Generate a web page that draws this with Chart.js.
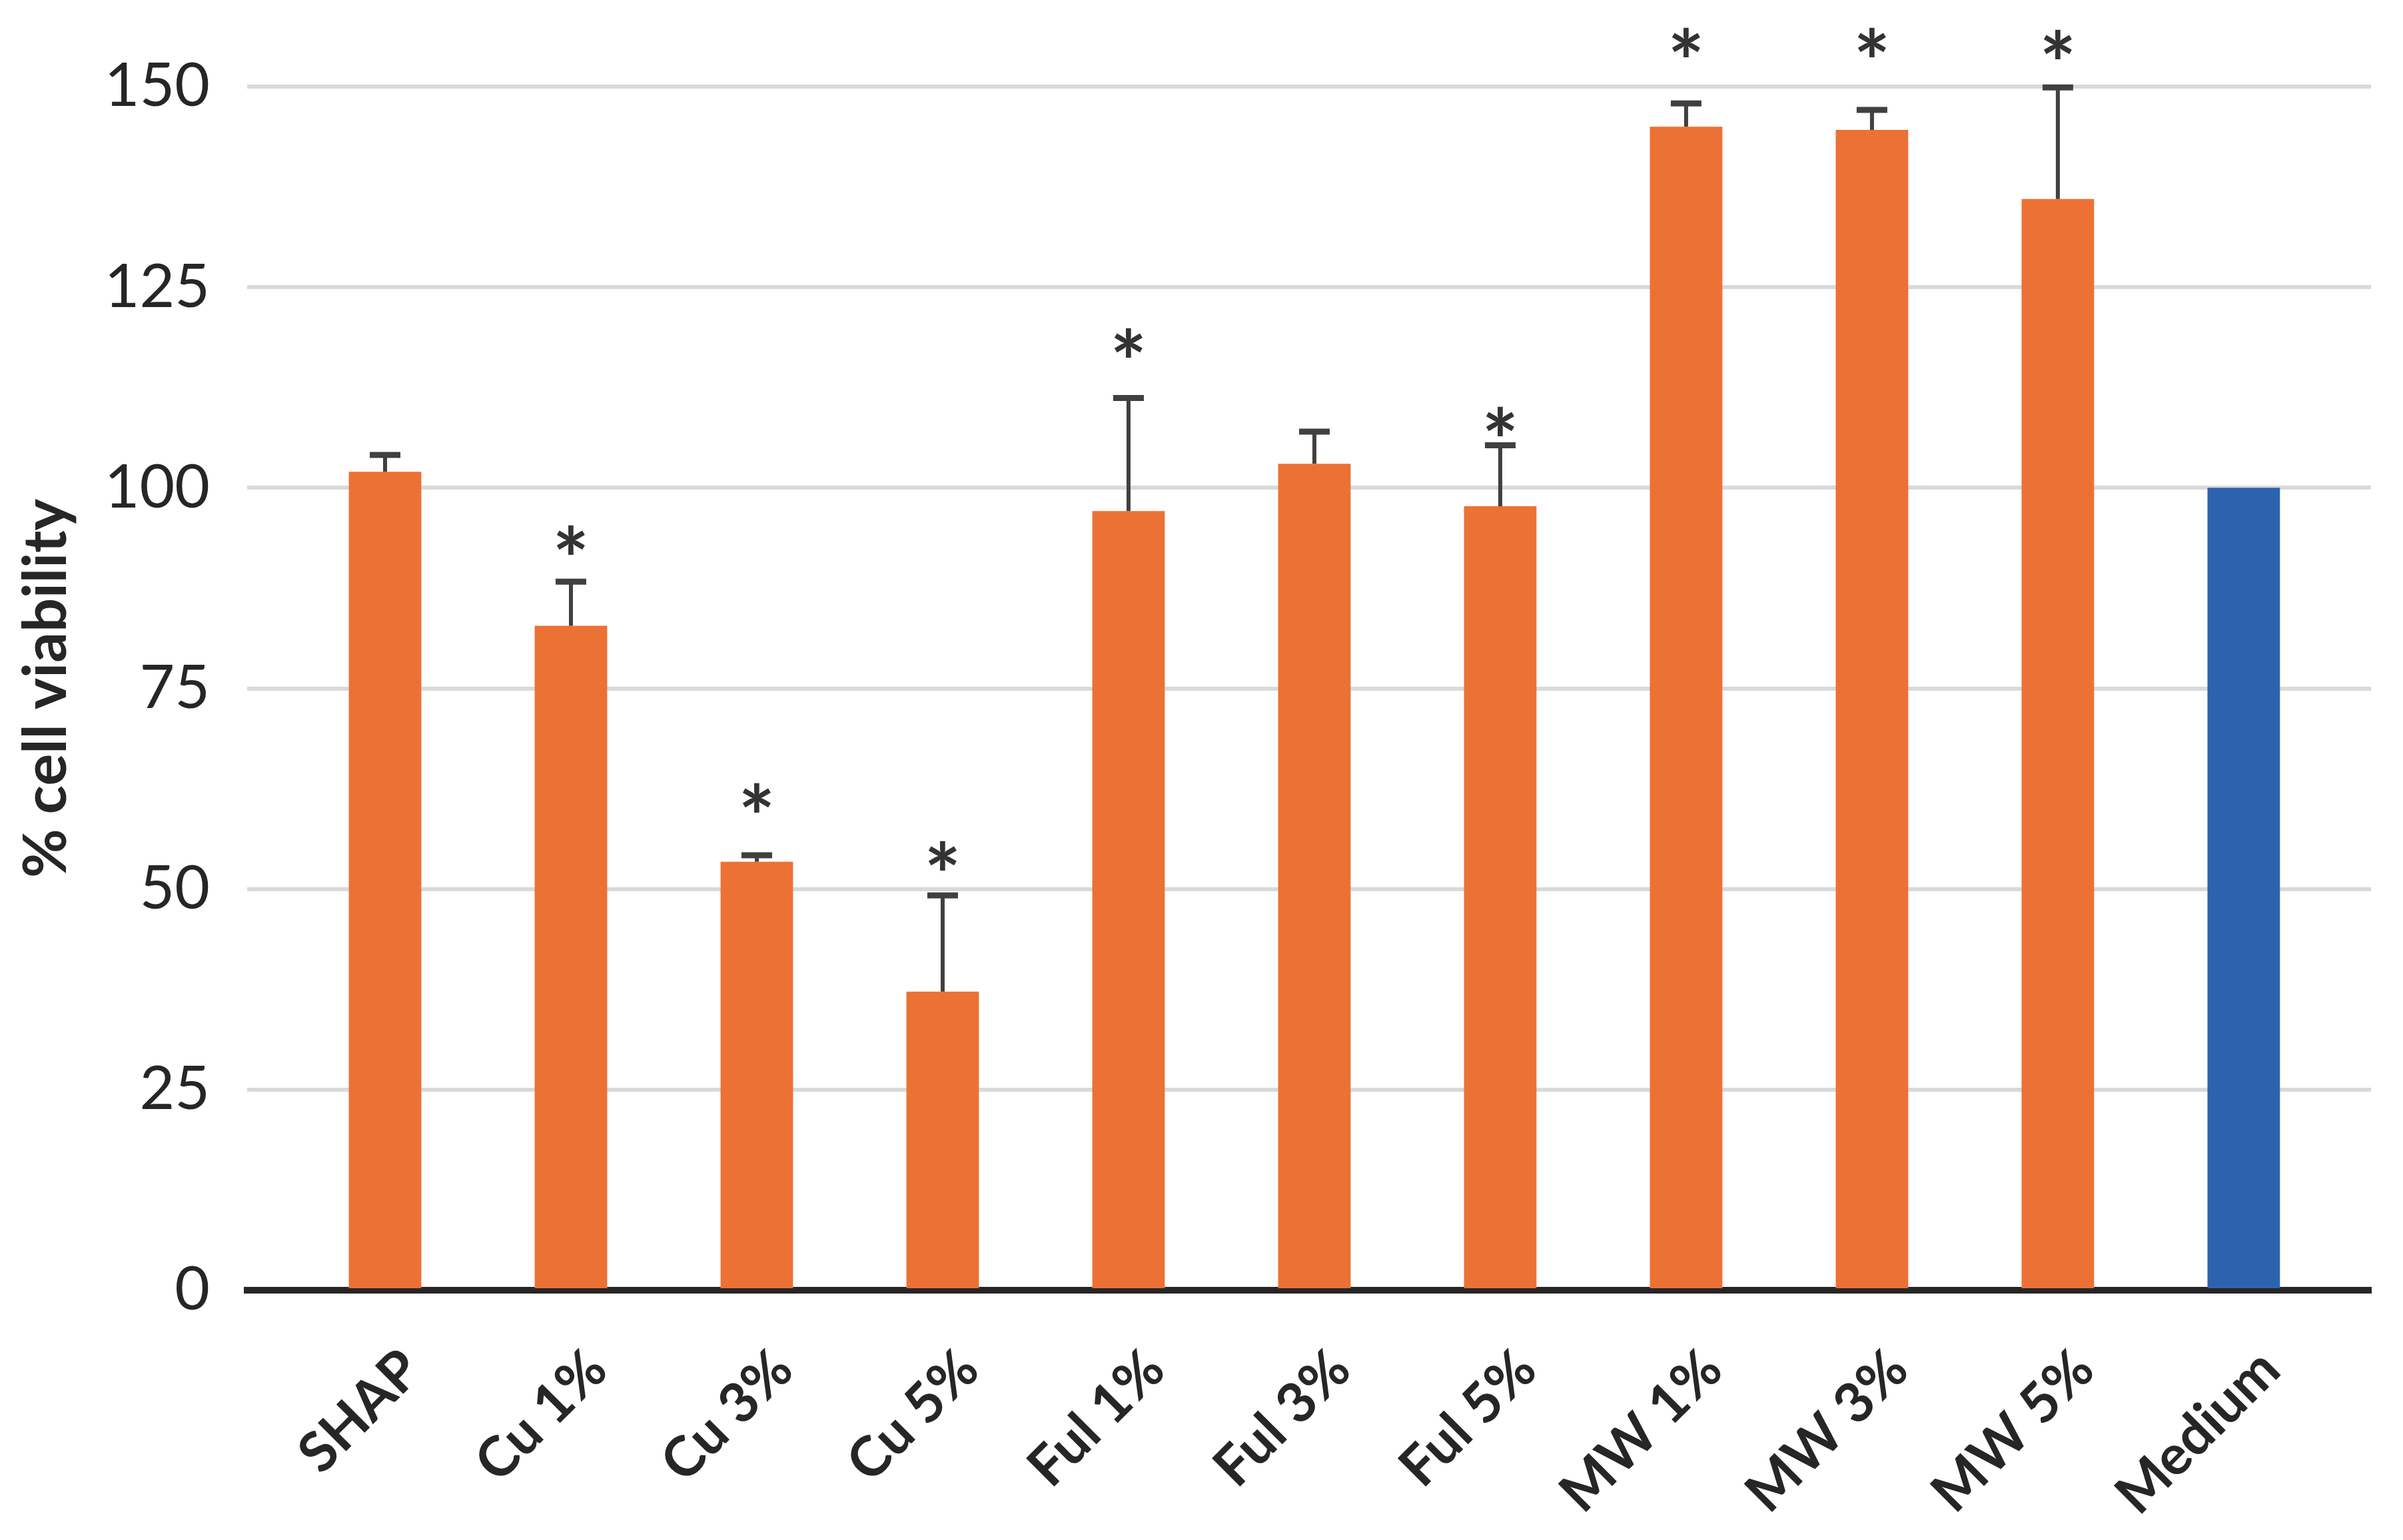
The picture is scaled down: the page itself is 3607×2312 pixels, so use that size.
<!DOCTYPE html>
<html>
<head>
<meta charset="utf-8">
<title>% cell viability</title>
<script src="https://cdn.jsdelivr.net/npm/chart.js@4.4.0/dist/chart.umd.min.js"></script>
<style>
  html, body { margin: 0; padding: 0; background: #fff; }
  #chart { display: block; }
</style>
</head>
<body>
<canvas id="chart" width="3607" height="2312"></canvas>
<script>
// Values
const categories = ['SHAP', 'Cu 1%', 'Cu 3%', 'Cu 5%', 'Ful 1%', 'Ful 3%', 'Ful 5%', 'MW 1%', 'MW 3%', 'MW 5%', 'Medium'];
const viability = [102.0, 82.8, 53.4, 37.2, 97.1, 103.0, 97.7, 145.0, 144.6, 136.0, 100.0];
const errorUp = [2.1, 5.5, 0.8, 12.0, 14.1, 4.0, 7.6, 2.9, 2.5, 13.9, 0];
// level (in % viability) of the significance star, null = no star
const starLevel = [null, 93.5, 61.4, 54.2, 118.1, null, 108.3, 155.5, 155.5, 155.3, null];
const yTicks = [0, 25, 50, 75, 100, 125, 150];

const ORANGE = '#ec7134';
const BLUE = '#2d63ae';
const INK = '#262626';

// error bars (upper only) and stars, drawn through the scales
const errorBarsAndStars = {
    id: 'errorBarsAndStars',
    afterDatasetsDraw(chart) {
        const { ctx, scales: { x, y } } = chart;
        ctx.save();
        ctx.strokeStyle = '#404040';
        viability.forEach((v, i) => {
            if (!errorUp[i]) return;
            const px = x.getPixelForValue(i);
            const top = y.getPixelForValue(v);
            const end = y.getPixelForValue(v + errorUp[i]);
            ctx.lineWidth = 6;
            ctx.beginPath();
            ctx.moveTo(px, top);
            ctx.lineTo(px, end);
            ctx.stroke();
            ctx.lineWidth = 9;
            ctx.beginPath();
            ctx.moveTo(px - 23, end);
            ctx.lineTo(px + 23, end);
            ctx.stroke();
        });

        ctx.fillStyle = '#333333';
        ctx.font = 'bold 130px Lato';
        ctx.textAlign = 'center';
        ctx.textBaseline = 'alphabetic';
        const m = ctx.measureText('*');
        const shift = (m.actualBoundingBoxAscent - m.actualBoundingBoxDescent) / 2;
        starLevel.forEach((s, i) => {
            if (s === null) return;
            ctx.fillText('*', x.getPixelForValue(i), y.getPixelForValue(s) + shift);
        });
        ctx.restore();
    }
};

new Chart(document.getElementById('chart'), {
    type: 'bar',
    data: {
        datasets: [{
            label: '% cell viability',
            data: categories.map((c, i) => ({ x: i, y: viability[i] })),
            backgroundColor: categories.map(c => c === 'Medium' ? BLUE : ORANGE),
            borderWidth: 0,
            categoryPercentage: 1,
            barPercentage: 0.39
        }]
    },
    options: {
        responsive: false,
        animation: false,
        layout: {
            padding: { top: 130, right: 48, left: 0, bottom: 0 }
        },
        plugins: {
            legend: { display: false },
            tooltip: { enabled: false }
        },
        scales: {
            x: {
                type: 'linear',
                offset: false,
                min: -0.742,
                max: 10.685,
                afterBuildTicks: (scale) => {
                    scale.ticks = categories.map((c, i) => ({ value: i }));
                },
                afterFit: (scale) => { scale.height = 375; },
                grid: { display: false, offset: false },
                border: { display: true, color: INK, width: 10 },
                ticks: {
                    autoSkip: false,
                    minRotation: 45,
                    maxRotation: 45,
                    padding: 62,
                    labelOffset: 40,
                    color: INK,
                    font: { family: 'Lato', size: 83, weight: 'bold' },
                    callback: (value) => categories[value]
                }
            },
            y: {
                min: 0,
                max: 150,
                afterBuildTicks: (scale) => {
                    scale.ticks = yTicks.map(v => ({ value: v }));
                },
                afterFit: (scale) => { scale.width = 371; },
                border: { display: false },
                grid: { color: '#d9d9d9', lineWidth: 6, drawTicks: false },
                ticks: {
                    padding: 56,
                    color: INK,
                    font: { family: 'Lato', size: 91 }
                },
                title: {
                    display: true,
                    text: '% cell viability',
                    color: INK,
                    font: { family: 'Lato', size: 90, weight: 'bold', lineHeight: 1 },
                    padding: { top: 25, bottom: 0 }
                }
            }
        }
    },
    plugins: [errorBarsAndStars]
});
</script>
</body>
</html>
